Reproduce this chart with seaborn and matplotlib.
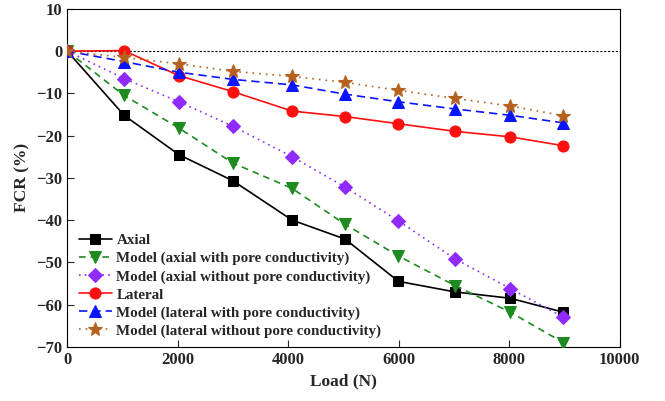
import matplotlib
matplotlib.use("Agg")
import matplotlib.pyplot as plt
import seaborn as sns
import pandas as pd

sns.set_style("ticks")
plt.rcParams['font.family'] = ['Liberation Serif', 'DejaVu Serif']
plt.rcParams['font.weight'] = 'bold'

load = [0, 1030, 2020, 3000, 4070, 5030, 5995, 7020, 8020, 8980]
axial = [0, -15.2, -24.5, -30.7, -40.0, -44.5, -54.5, -57.0, -58.5, -61.8]
model_axial_pore = [0, -10.5, -18.2, -26.5, -32.5, -41.0, -48.5, -55.5, -61.8, -69.0]
model_axial_nopore = [0, -6.5, -12.0, -17.8, -25.0, -32.2, -40.2, -49.2, -56.2, -63.0]
lateral = [0, 0.1, -5.8, -9.6, -14.2, -15.5, -17.2, -19.0, -20.3, -22.4]
model_lateral_pore = [0, -2.5, -5.0, -6.7, -8.0, -10.2, -12.0, -13.7, -15.2, -17.0]
model_lateral_nopore = [0, -1.5, -3.0, -4.8, -6.0, -7.4, -9.3, -11.2, -13.0, -15.3]

series = [
    ("Axial", axial, "black", "-", "s", 7.5),
    ("Model (axial with pore conductivity)", model_axial_pore, "#1f8a1f", (0, (4, 3)), "v", 8),
    ("Model (axial without pore conductivity)", model_axial_nopore, "#8f2bff", (0, (1, 2.5)), "D", 7),
    ("Lateral", lateral, "#ff1010", "-", "o", 8),
    ("Model (lateral with pore conductivity)", model_lateral_pore, "#0a14ff", (0, (5, 3)), "^", 8),
    ("Model (lateral without pore conductivity)", model_lateral_nopore, "#b5621f", (0, (1, 3)), "*", 10),
]

fig = plt.figure(figsize=(6.65, 4.01), dpi=100)
ax = fig.add_axes([0.101, 0.135, 0.831, 0.843])

ax.axhline(0, color="black", lw=0.8, ls=(0, (2, 1.5)), zorder=1)

for name, vals, col, ls, mk, ms in series:
    df = pd.DataFrame({"Load": load, "FCR": vals})
    sns.lineplot(data=df, x="Load", y="FCR", ax=ax, color=col, marker=mk,
                 markersize=ms, markeredgecolor=col, linewidth=1.2,
                 linestyle=ls, label=name, zorder=3)

ax.set_xlim(0, 10000)
ax.set_ylim(-70, 10)
ax.set_xticks([0, 2000, 4000, 6000, 8000, 10000])
ax.set_yticks(range(-70, 11, 10))
ax.tick_params(direction="in", labelsize=12, length=5, width=0.8)
for lab in ax.get_xticklabels() + ax.get_yticklabels():
    lab.set_fontweight("bold")
ax.set_xlabel("Load (N)", fontsize=12.5, fontweight="bold", labelpad=4)
ax.set_ylabel("FCR (%)", fontsize=12.5, fontweight="bold", labelpad=4)
for s in ax.spines.values():
    s.set_linewidth(0.8)
    s.set_color("black")

leg = ax.legend(loc="lower left", frameon=False, fontsize=10.8, handlelength=2.2,
                handletextpad=0.3, labelspacing=0.3, borderaxespad=0.2,
                bbox_to_anchor=(0.005, 0.0))
for t in leg.get_texts():
    t.set_fontweight("bold")

fig.savefig("out.png", dpi=100)
